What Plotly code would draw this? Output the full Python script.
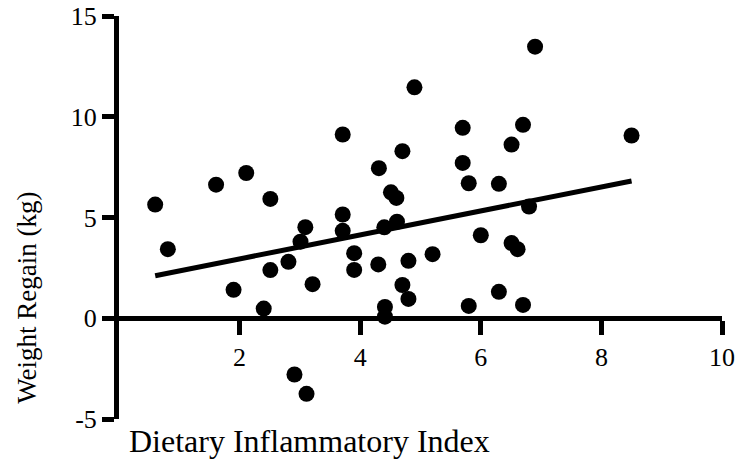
import plotly.graph_objects as go

FONT = 'Liberation Serif, Times New Roman, serif'
INK = 'black'

dii = [0.60, 0.81, 1.61, 1.90, 2.11, 2.40, 2.51, 2.51, 2.81, 2.91,
       3.01, 3.09, 3.11, 3.21, 3.71, 3.71, 3.71, 3.90, 3.90, 4.30,
       4.31, 4.40, 4.41, 4.41, 4.51, 4.60, 4.61, 4.70, 4.70, 4.80,
       4.80, 4.90, 5.20, 5.70, 5.70, 5.80, 5.80, 6.00, 6.30, 6.30,
       6.51, 6.51, 6.61, 6.70, 6.70, 6.80, 6.90, 8.50]
regain = [5.64, 3.43, 6.63, 1.41, 7.21, 0.48, 5.92, 2.39, 2.80, -2.79,
          3.80, 4.52, -3.75, 1.69, 9.12, 5.15, 4.34, 3.23, 2.40, 2.67,
          7.45, 4.51, 0.56, 0.08, 6.25, 5.97, 4.79, 8.29, 1.65, 2.85,
          0.96, 11.46, 3.18, 9.45, 7.71, 6.70, 0.61, 4.12, 6.67, 1.31,
          8.62, 3.73, 3.43, 9.60, 0.66, 5.54, 13.48, 9.07]

# regression line as drawn in the figure
fit_slope = 0.595
fit_intercept = 1.755

x_ticks = [2, 4, 6, 8, 10]
y_ticks = [-5, 0, 5, 10, 15]
y_tick_labels = ['-5', '0', '5', '10', '15']

fit_x = [min(dii), max(dii)]
fit_y = [fit_slope * v + fit_intercept for v in fit_x]

fig = go.Figure()
fig.add_trace(go.Scatter(
    x=dii, y=regain, mode='markers',
    marker={'color': INK, 'size': 16, 'line': {'width': 0}},
    showlegend=False,
))
fig.add_trace(go.Scatter(
    x=fit_x, y=fit_y, mode='lines',
    line={'color': INK, 'width': 5},
    showlegend=False,
))

fig.update_layout(
    template='none',
    width=743, height=461,
    margin={'l': 119, 'r': 21, 't': 16, 'b': 42, 'pad': 0},
    plot_bgcolor='white', paper_bgcolor='white',
    font={'family': FONT, 'size': 26, 'color': INK},
    xaxis={
        'range': [0, 10], 'anchor': 'free', 'position': 0.25,
        'automargin': False, 'ticklabeloverflow': 'allow',
        'tickmode': 'array', 'tickvals': x_ticks,
        'showline': True, 'linecolor': INK, 'linewidth': 5,
        'ticks': 'outside', 'ticklen': 14, 'tickwidth': 5, 'tickcolor': INK,
        'showgrid': False, 'zeroline': False,
    },
    yaxis={
        'range': [-5, 15], 'automargin': False, 'ticklabeloverflow': 'allow',
        'tickmode': 'array', 'tickvals': y_ticks, 'ticktext': y_tick_labels,
        'showline': True, 'linecolor': INK, 'linewidth': 5,
        'ticks': 'outside', 'ticklen': 12, 'tickwidth': 5, 'tickcolor': INK,
        'showgrid': False, 'zeroline': False,
    },
    annotations=[
        {'text': 'Dietary Inflammatory Index', 'xref': 'paper', 'yref': 'paper',
         'x': 0.013, 'y': -0.005, 'xanchor': 'left', 'yanchor': 'top',
         'showarrow': False, 'font': {'size': 32}},
        {'text': 'Weight Regain (kg)', 'xref': 'paper', 'yref': 'paper',
         'x': -0.153, 'y': 0.30, 'xanchor': 'center', 'yanchor': 'middle',
         'textangle': -90, 'showarrow': False, 'font': {'size': 27}},
    ],
)

# drop the default 8px body margin so the figure fills the window
fig.write_html(
    'out.html',
    config={'displayModeBar': False},
    post_script="document.body.style.margin = '0';",
)
